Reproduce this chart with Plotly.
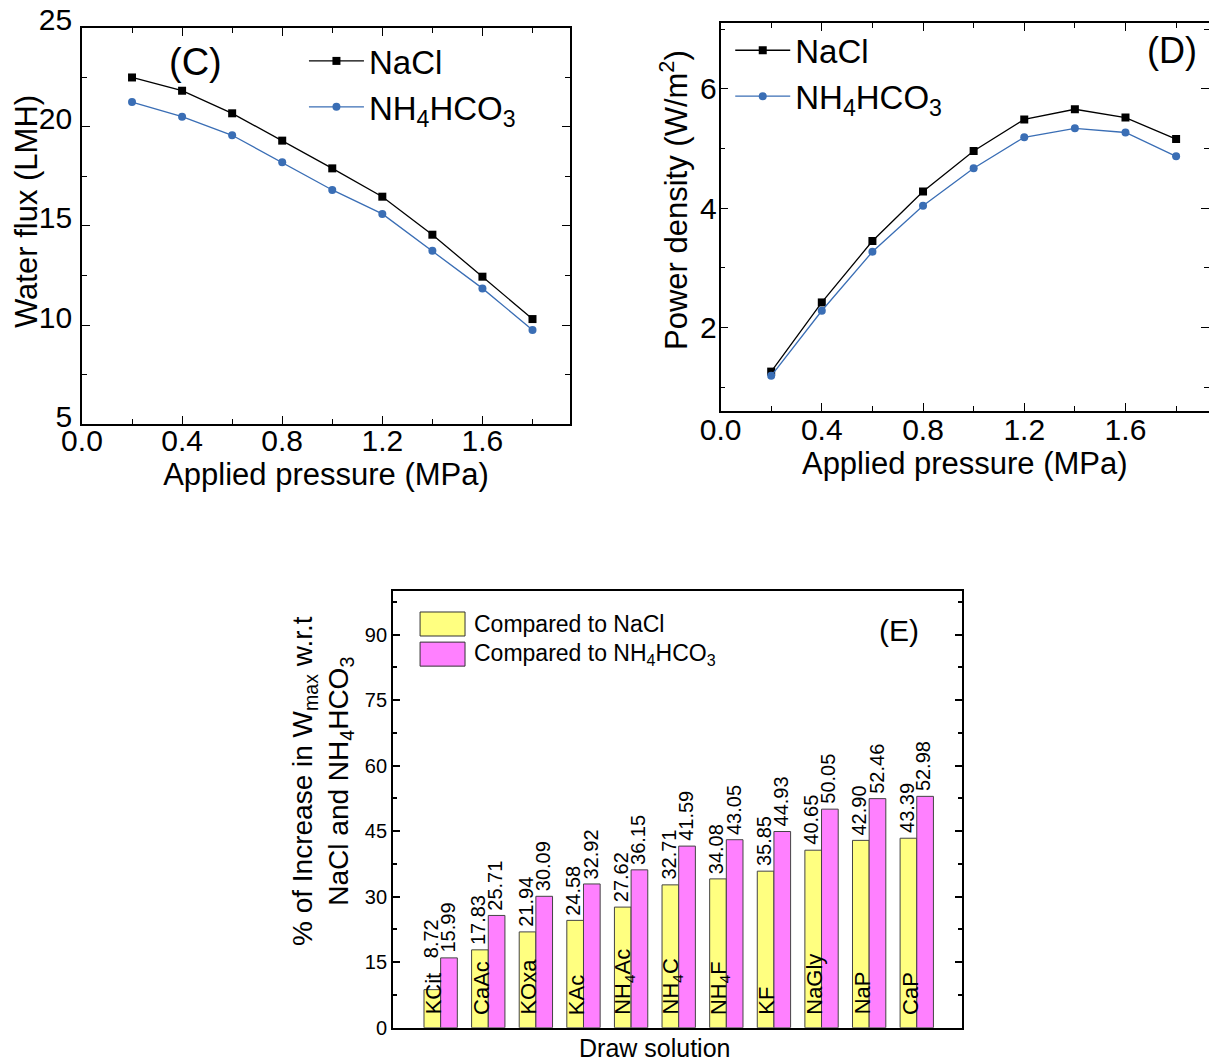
import plotly.graph_objects as go

# ---------------- data ----------------
pressure = [0.2, 0.4, 0.6, 0.8, 1.0, 1.2, 1.4, 1.6, 1.8]
flux_nacl = [22.50, 21.83, 20.69, 19.31, 17.91, 16.48, 14.56, 12.44, 10.30]
flux_nh4 = [21.26, 20.52, 19.58, 18.22, 16.82, 15.61, 13.75, 11.85, 9.75]
pd_nacl = [1.26, 2.42, 3.45, 4.28, 4.96, 5.49, 5.66, 5.52, 5.16]
pd_nh4 = [1.19, 2.28, 3.27, 4.04, 4.67, 5.19, 5.34, 5.27, 4.87]

draw_solutions = ["KCit", "CaAc", "KOxa", "KAc", "NH<sub>4</sub>Ac", "NH<sub>4</sub>C",
                  "NH<sub>4</sub>F", "KF", "NaGly", "NaP", "CaP"]
inc_vs_nacl = [8.72, 17.83, 21.94, 24.58, 27.62, 32.71, 34.08, 35.85, 40.65, 42.90, 43.39]
inc_vs_nh4 = [15.99, 25.71, 30.09, 32.92, 36.15, 41.59, 43.05, 44.93, 50.05, 52.46, 52.98]

name_nacl = "NaCl"
name_nh4 = "NH<sub>4</sub>HCO<sub>3</sub>"
bar_names = ["Compared to NaCl", "Compared to NH<sub>4</sub>HCO<sub>3</sub>"]

FONT = "Liberation Sans, Arial, sans-serif"
BLACK = "#000000"
BLUE = "#3A6EB5"
YELLOW = "#FFFF80"
PINK = "#FF80FF"

fig = go.Figure()

# ---------------- panel C ----------------
fig.add_trace(go.Scatter(x=pressure, y=flux_nacl, name=name_nacl, mode="lines+markers",
                         line=dict(color=BLACK, width=1.3),
                         marker=dict(symbol="square", size=8, color=BLACK),
                         xaxis="x", yaxis="y", legend="legend"))
fig.add_trace(go.Scatter(x=pressure, y=flux_nh4, name=name_nh4, mode="lines+markers",
                         line=dict(color=BLUE, width=1.3),
                         marker=dict(symbol="circle", size=8, color=BLUE),
                         xaxis="x", yaxis="y", legend="legend"))

# ---------------- panel D ----------------
fig.add_trace(go.Scatter(x=pressure, y=pd_nacl, name=name_nacl, mode="lines+markers",
                         line=dict(color=BLACK, width=1.3),
                         marker=dict(symbol="square", size=8, color=BLACK),
                         xaxis="x2", yaxis="y2", legend="legend2"))
fig.add_trace(go.Scatter(x=pressure, y=pd_nh4, name=name_nh4, mode="lines+markers",
                         line=dict(color=BLUE, width=1.3),
                         marker=dict(symbol="circle", size=8, color=BLUE),
                         xaxis="x2", yaxis="y2", legend="legend2"))

# ---------------- panel E ----------------
fig.add_trace(go.Bar(x=draw_solutions, y=inc_vs_nacl, name=bar_names[0],
                     marker=dict(color=YELLOW, line=dict(color="#444444", width=1)),
                     xaxis="x3", yaxis="y3", showlegend=False))
fig.add_trace(go.Bar(x=draw_solutions, y=inc_vs_nh4, name=bar_names[1],
                     marker=dict(color=PINK, line=dict(color="#444444", width=1)),
                     xaxis="x3", yaxis="y3", showlegend=False))

annotations = []
label_floor = 14.8
for cat, v1, v2 in zip(draw_solutions, inc_vs_nacl, inc_vs_nh4):
    annotations.append(dict(x=cat, y=max(v1, label_floor), xref="x3", yref="y3", text=f"{v1:.2f}",
                            textangle=-90, showarrow=False, xanchor="center", yanchor="bottom",
                            xshift=-10, yshift=3, font=dict(family=FONT, size=20, color=BLACK)))
    annotations.append(dict(x=cat, y=v2, xref="x3", yref="y3", text=f"{v2:.2f}",
                            textangle=-90, showarrow=False, xanchor="center", yanchor="bottom",
                            xshift=7, yshift=3, font=dict(family=FONT, size=20, color=BLACK)))
    annotations.append(dict(x=cat, y=0, xref="x3", yref="y3", text=cat,
                            textangle=-90, showarrow=False, xanchor="center", yanchor="bottom",
                            xshift=-7, yshift=11, font=dict(family=FONT, size=22, color=BLACK)))

# panel letters and axis titles placed as text
H, W = 1063.0, 1209.0
def px(x, y):
    return x / W, 1 - y / H

annotations += [
    dict(x=px(195, 62)[0], y=px(195, 62)[1], xref="paper", yref="paper", text="(C)", showarrow=False,
         xanchor="center", yanchor="middle", font=dict(family=FONT, size=38, color=BLACK)),
    dict(x=px(1172, 50)[0], y=px(1172, 50)[1], xref="paper", yref="paper", text="(D)", showarrow=False,
         xanchor="center", yanchor="middle", font=dict(family=FONT, size=36, color=BLACK)),
    dict(x=px(899, 630)[0], y=px(899, 630)[1], xref="paper", yref="paper", text="(E)", showarrow=False,
         xanchor="center", yanchor="middle", font=dict(family=FONT, size=30, color=BLACK)),
    dict(x=px(26, 212)[0], y=px(26, 212)[1], xref="paper", yref="paper", text="Water flux (LMH)",
         textangle=-90, showarrow=False, xanchor="center", yanchor="middle",
         font=dict(family=FONT, size=31, color=BLACK)),
    dict(x=px(674, 200)[0], y=px(674, 200)[1], xref="paper", yref="paper",
         text="Power density (W/m<sup>2</sup>)",
         textangle=-90, showarrow=False, xanchor="center", yanchor="middle",
         font=dict(family=FONT, size=31, color=BLACK)),
    dict(x=px(322, 781)[0], y=px(322, 781)[1], xref="paper", yref="paper",
         text="% of Increase in W<sub>max</sub> w.r.t<br>NaCl and NH<sub>4</sub>HCO<sub>3</sub>",
         textangle=-90, showarrow=False, xanchor="center", yanchor="middle",
         font=dict(family=FONT, size=28, color=BLACK)),
    dict(x=px(654, 1048)[0], y=px(654, 1048)[1], xref="paper", yref="paper", text="Draw solution",
         showarrow=False, xanchor="center", yanchor="middle",
         font=dict(family=FONT, size=25, color=BLACK)),
]

# manual legend for panel E
shapes = []
for i, (nm, col) in enumerate(zip(bar_names, [YELLOW, PINK])):
    y_top = 0.952 - i * 0.069
    shapes.append(dict(type="rect", xref="x3 domain", yref="y3 domain",
                       x0=0.0475, x1=0.1265, y0=y_top - 0.055, y1=y_top,
                       fillcolor=col, line=dict(color="#333333", width=1)))
    annotations.append(dict(x=0.1388, y=y_top - 0.0275, xref="x3 domain", yref="y3 domain",
                            text=nm, showarrow=False, xanchor="left", yanchor="middle",
                            font=dict(family=FONT, size=23, color=BLACK)))

axis_common = dict(showline=True, linecolor=BLACK, linewidth=1.6, mirror="ticks",
                   ticks="inside", ticklen=8, tickwidth=1.4, tickcolor=BLACK,
                   showgrid=False, zeroline=False, automargin=False,
                   tickfont=dict(family=FONT, size=30, color=BLACK))

fig.update_layout(
    width=1209, height=1063,
    margin=dict(l=0, r=0, t=0, b=0, autoexpand=False),
    paper_bgcolor="white", plot_bgcolor="white",
    font=dict(family=FONT, color=BLACK),
    barmode="group", bargap=0.3, bargroupgap=0,
    xaxis=dict(**axis_common, domain=[0.0678, 0.4715], range=[0, 1.95], dtick=0.4, tick0=0,
               tickformat=".1f", anchor="y", ticklabelstandoff=-11,
               minor=dict(dtick=0.2, ticks="inside", ticklen=5, tickcolor=BLACK),
               title=dict(text="Applied pressure (MPa)", font=dict(family=FONT, size=31), standoff=4)),
    yaxis=dict(**axis_common, domain=[0.6011, 0.9737], range=[5, 25], dtick=5, anchor="x",
               ticklabelshift=-8, ticklabelstandoff=2,
               minor=dict(dtick=2.5, ticks="inside", ticklen=5, tickcolor=BLACK)),
    xaxis2=dict(**axis_common, domain=[0.596, 1.0], range=[0, 1.93], dtick=0.4, tick0=0,
                tickformat=".1f", anchor="y2", ticklabelstandoff=-9,
                minor=dict(dtick=0.2, ticks="inside", ticklen=5, tickcolor=BLACK),
                title=dict(text="Applied pressure (MPa)", font=dict(family=FONT, size=31), standoff=4)),
    yaxis2=dict(**axis_common, domain=[0.6134, 0.978], range=[0.6, 7.1], dtick=2, tick0=0, anchor="x2",
                ticklabelstandoff=-4,
                minor=dict(dtick=1, ticks="inside", ticklen=5, tickcolor=BLACK)),
    xaxis3=dict(showline=True, linecolor=BLACK, linewidth=2, mirror=True, ticks="",
                showticklabels=False, showgrid=False, zeroline=False, automargin=False,
                domain=[0.3251, 0.7957], range=[-1, 10.95], anchor="y3"),
    yaxis3=dict(showline=True, linecolor=BLACK, linewidth=2, mirror="ticks",
                ticks="inside", ticklen=7, tickwidth=1.6, tickcolor=BLACK,
                showgrid=False, zeroline=False, automargin=False,
                domain=[0.0332, 0.444], range=[0, 100],
                dtick=15, tick0=0, anchor="x3",
                tickfont=dict(family=FONT, size=20, color=BLACK),
                minor=dict(dtick=7.5, ticks="inside", ticklen=4, tickcolor=BLACK)),
    legend=dict(x=0.2514, y=0.969, xanchor="left", yanchor="top", bgcolor="rgba(0,0,0,0)",
                borderwidth=0, font=dict(family=FONT, size=33, color=BLACK), itemwidth=55,
                tracegroupgap=0),
    legend2=dict(x=0.604, y=0.979, xanchor="left", yanchor="top", bgcolor="rgba(0,0,0,0)",
                 borderwidth=0, font=dict(family=FONT, size=33, color=BLACK), itemwidth=55,
                 tracegroupgap=0),
    annotations=annotations,
    shapes=shapes,
)

fig.write_html("out.html")
